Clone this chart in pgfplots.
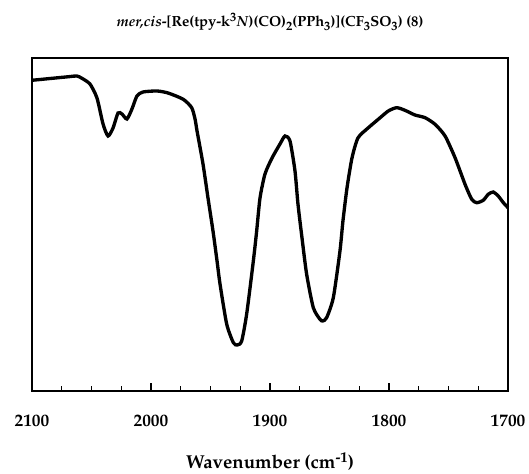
\documentclass[border=0pt]{standalone}
\usepackage[T1]{fontenc}
\usepackage{mathpazo}
\usepackage{pgfplots}
\pgfplotsset{compat=1.18}
\usetikzlibrary{calc}
\newcommand{\mysub}[1]{\raisebox{-0.45ex}{\fontsize{9.5}{10}\selectfont #1}}
\newcommand{\mysup}[1]{\raisebox{0.75ex}{\fontsize{9.5}{10}\selectfont #1}}
\pgfplotstableread{
wn y
2100 310.7
2070 314.2
2062.4 315
2058.5 313
2051.3 307
2045.4 293
2040.3 267
2036.1 255
2031.9 263
2027.7 278
2024.4 277
2020.2 272
2016.0 282
2011.8 295
2006.7 299
1995.0 300
1985.7 298
1972.9 291.7
1965.8 283.3
1963.0 272
1961.3 260
1956.3 227
1952.1 193
1947.9 160
1944.5 130
1942.0 107
1936.4 67
1930.8 48.3
1927.5 46
1923.8 50
1919.6 77
1914.0 130
1911.2 160
1908.4 193
1904.2 217
1898.3 233
1891.6 247
1887.4 255
1883.2 250
1879.0 220
1876.5 187
1873.1 153
1869.2 116.7
1863.6 83.3
1858.0 71.7
1855.7 70
1852.4 73.3
1846.8 93.3
1841.2 140
1838.7 170
1835.3 203
1831.1 233
1826.1 253
1817.6 263
1809.0 271.7
1800.6 280
1793.5 283.3
1786.6 280.7
1778.2 276
1769.7 273.3
1761.3 266.7
1752.9 255
1744.5 233.3
1736.1 206.7
1730.5 191.7
1726.3 188.3
1720.8 190.7
1716.6 196.7
1712.4 199
1708.2 195
1703.9 188.3
1700 183.3
}\spectrum
\begin{document}
\begin{tikzpicture}
\begin{axis}[
  name=ax,
  scale only axis,
  width=357pt, height=249.75pt,
  xmin=1700, xmax=2100, ymin=0, ymax=333,
  x dir=reverse,
  axis line style={line width=1.4pt},
  xtick={1700,1800,1900,2000,2100},
  minor x tick num=3,
  ytick=\empty,
  xtick pos=bottom,
  tick align=inside,
  major tick length=6pt,
  minor tick length=3.5pt,
  every tick/.style={line width=1.1pt, black},
  xticklabel style={font=\fontsize{13}{15}\selectfont\bfseries, yshift=-14pt},
  /pgf/number format/assume math mode=true,
  /pgf/number format/set thousands separator={},
  clip=false,
]
\addplot[black, line width=2.5pt, smooth, tension=0.4] table[x=wn, y=y] {\spectrum};
\end{axis}
\node[font=\fontsize{11}{14}\selectfont\bfseries] at ($(ax.north)+(0,27pt)$) {\textit{mer,cis}-[Re(tpy-k\mysup{3}\textit{N})(CO)\mysub{2}(PPh\mysub{3})](CF\mysub{3}SO\mysub{3}) (8)};
\node[font=\fontsize{14}{16}\selectfont\bfseries] at ($(ax.south)+(0,-53pt)$) {Wavenumber (cm\raisebox{0.75ex}{\fontsize{11}{11}\selectfont -1})};
\pgfresetboundingbox
\path[use as bounding box] ($(ax.south west)+(-24pt,-61.5pt)$) rectangle ($(ax.north east)+(15.75pt,43.5pt)$);
\end{tikzpicture}
\end{document}
